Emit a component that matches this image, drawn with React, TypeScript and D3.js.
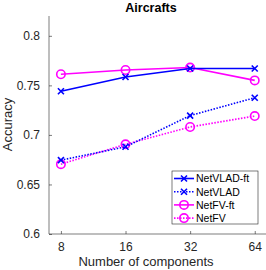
import * as d3 from "d3";
import { useEffect, useRef } from "react";

const components = [8, 16, 32, 64];
const netvladFt = [0.744, 0.7585, 0.767, 0.767];
const netvlad = [0.6745, 0.688, 0.7195, 0.7375];
const netfvFt = [0.7612, 0.7655, 0.768, 0.755];
const netfv = [0.6705, 0.6905, 0.708, 0.719];
const yTicks = [0.6, 0.65, 0.7, 0.75, 0.8];
const yTickLabels = ["0.6", "0.65", "0.7", "0.75", "0.8"];

const seriesNames = ["NetVLAD-ft", "NetVLAD", "NetFV-ft", "NetFV"];

const App = () => {
  const svgRef = useRef<SVGSVGElement>(null);

  useEffect(() => {
    const w = 266;
    const h = 270;
    const svg = d3.select(svgRef.current).attr("width", w).attr("height", h);
    svg.selectAll("*").remove();

    const left = 49;
    const bottom = 234;
    const top = 16;

    // log2 scale on the x axis
    const x = d3.scaleLog().base(2).domain([7.04, 73]).range([left, 267]);
    const y = d3.scaleLinear().domain([0.6, 0.82]).range([bottom, top]);

    const axisColor = "#262626";
    const font = "Liberation Sans, Arial, sans-serif";

    // title
    svg.append("text")
      .attr("x", 151).attr("y", 12)
      .attr("text-anchor", "middle")
      .attr("font-family", font).attr("font-weight", "bold").attr("font-size", 12.5)
      .attr("fill", "#000")
      .text("Aircrafts");

    // axes
    const yAxis = d3.axisLeft(y).tickValues(yTicks).tickSize(-3).tickPadding(9)
      .tickFormat((d, i) => yTickLabels[i]);
    const gy = svg.append("g").attr("transform", `translate(${left},0)`).call(yAxis);
    const xAxis = d3.axisBottom(x).tickValues(components).tickSize(-3).tickPadding(8)
      .tickFormat(d => String(d));
    const gx = svg.append("g").attr("transform", `translate(0,${bottom})`).call(xAxis);
    [gx, gy].forEach(g => {
      g.selectAll("path").attr("stroke", axisColor).attr("stroke-width", 0.6);
      g.selectAll("line").attr("stroke", axisColor).attr("stroke-width", 0.6);
      g.selectAll("text").attr("fill", axisColor).attr("font-family", font).attr("font-size", 12);
    });
    gy.select(".domain").attr("d", `M0,${bottom}V${top}`);
    gx.select(".domain").attr("d", `M${left},0H266`);

    // axis labels
    svg.append("text")
      .attr("x", 146).attr("y", 265.5)
      .attr("text-anchor", "middle")
      .attr("font-family", font).attr("font-size", 13).attr("fill", axisColor)
      .text("Number of components");
    svg.append("text")
      .attr("transform", `translate(12,124.5) rotate(-90)`)
      .attr("text-anchor", "middle")
      .attr("font-family", font).attr("font-size", 13).attr("fill", axisColor)
      .text("Accuracy");

    const series = [
      { name: seriesNames[0], values: netvladFt, color: "#0000ff", dash: null, marker: "x" },
      { name: seriesNames[1], values: netvlad, color: "#0000ff", dash: "1.5,1.5", marker: "x" },
      { name: seriesNames[2], values: netfvFt, color: "#ff00ff", dash: null, marker: "o" },
      { name: seriesNames[3], values: netfv, color: "#ff00ff", dash: "1.5,1.5", marker: "o" },
    ];

    const line = d3.line<number>()
      .x((d, i) => x(components[i]))
      .y(d => y(d));

    const drawMarker = (g: any, cx: number, cy: number, s: any) => {
      if (s.marker === "x") {
        const r = 3;
        g.append("path")
          .attr("d", `M${cx - r},${cy - r}L${cx + r},${cy + r}M${cx - r},${cy + r}L${cx + r},${cy - r}`)
          .attr("stroke", s.color).attr("stroke-width", 1.6).attr("fill", "none");
      } else {
        g.append("circle")
          .attr("cx", cx).attr("cy", cy).attr("r", 4.2)
          .attr("stroke", s.color).attr("stroke-width", 1.6).attr("fill", "none");
      }
    };

    // draw in reverse so NetVLAD-ft is on top
    [...series].reverse().forEach(s => {
      const g = svg.append("g");
      g.append("path")
        .datum(s.values)
        .attr("d", line)
        .attr("fill", "none")
        .attr("stroke", s.color)
        .attr("stroke-width", 1.6)
        .attr("stroke-dasharray", s.dash);
      s.values.forEach((v, i) => drawMarker(g, x(components[i]), y(v), s));
    });

    // legend
    const lg = svg.append("g");
    lg.append("rect")
      .attr("x", 172).attr("y", 171).attr("width", 86).attr("height", 53)
      .attr("fill", "#fff").attr("stroke", axisColor).attr("stroke-width", 0.6);
    series.forEach((s, i) => {
      const ly = 178.5 + i * 13.2;
      lg.append("line")
        .attr("x1", 174).attr("x2", 194).attr("y1", ly).attr("y2", ly)
        .attr("stroke", s.color).attr("stroke-width", 1.6)
        .attr("stroke-dasharray", s.dash);
      drawMarker(lg, 184, ly, s);
      lg.append("text")
        .attr("x", 196).attr("y", ly + 3.8)
        .attr("font-family", font).attr("font-size", 10.5).attr("fill", "#000")
        .text(s.name);
    });
  }, []);

  return (
    <svg ref={svgRef} style={{ position: "absolute", left: 0, top: 0 }}></svg>
  );
};

export default App;
